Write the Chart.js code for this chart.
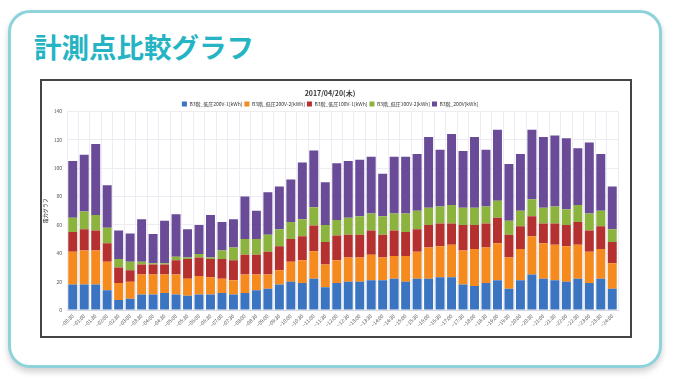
<!DOCTYPE html>
<html lang="ja">
<head>
<meta charset="utf-8">
<title>計測点比較グラフ</title>
<script src="https://cdn.jsdelivr.net/npm/chart.js@4.4.0/dist/chart.umd.min.js"></script>
<style>
  html, body { margin: 0; padding: 0; background: #fff; width: 675px; height: 386px; overflow: hidden; }
  .card {
    position: absolute; left: 8px; top: 10px; width: 648px; height: 352px;
    border: 3px solid #8ed3db; border-radius: 22px; background: #fff;
    box-shadow: 0 4px 6px rgba(0, 0, 0, 0.18);
  }
  .card h1 {
    position: absolute; left: 23px; top: 13px; margin: 0;
    font-family: "Noto Sans CJK JP", sans-serif; font-weight: 700; font-size: 27.5px;
    color: #25b4c3; letter-spacing: 0px;
  }
  .box {
    position: absolute; left: 40px; top: 79px; width: 588px; height: 255px;
    border: 2px solid #444; background: #fff;
  }
  .box canvas { display: block; }
</style>
</head>
<body>
<div class="card"><h1>計測点比較グラフ</h1></div>
<div class="box"><canvas id="grafica" width="588" height="255"></canvas></div>
<script>
// 時間帯ラベル
var etiquetas = [
  "~00:30", "~01:00", "~01:30", "~02:00", "~02:30", "~03:00", "~03:30", "~04:00",
  "~04:30", "~05:00", "~05:30", "~06:00", "~06:30", "~07:00", "~07:30", "~08:00",
  "~08:30", "~09:00", "~09:30", "~10:00", "~10:30", "~11:00", "~11:30", "~12:00",
  "~12:30", "~13:00", "~13:30", "~14:00", "~14:30", "~15:00", "~15:30", "~16:00",
  "~16:30", "~17:00", "~17:30", "~18:00", "~18:30", "~19:00", "~19:30", "~20:00",
  "~20:30", "~21:00", "~21:30", "~22:00", "~22:30", "~23:00", "~23:30", "~24:00"
];

// 各計測点の値 (kWh)
var bajo200v1 = [18, 18, 18, 14, 7, 8, 11, 11, 12, 11, 10, 11, 11, 12, 11, 12,
  14, 15, 18, 20, 19, 22, 16, 19, 20, 20, 21, 21, 22, 20, 22, 22,
  23, 23, 18, 17, 19, 21, 15, 21, 25, 22, 21, 20, 22, 19, 22, 15];
var bajo200v2 = [23, 24, 24, 20, 12, 12, 14, 14, 13, 14, 12, 13, 12, 10, 10, 13,
  11, 10, 10, 14, 16, 19.5, 16, 16, 17, 17, 18, 16, 16, 18, 19, 22,
  22, 23, 24, 26, 25, 26, 22, 22, 27, 25, 25, 25, 24, 22, 21, 18];
var bajo100v1 = [14, 15, 14, 13, 11, 8, 7, 7, 7, 10, 14, 13, 13, 14, 14, 14,
  14, 16, 17, 16, 17, 18, 16, 17.5, 16, 16, 17, 16, 18, 17, 16, 16,
  16, 15, 18, 17, 17, 18, 16, 16, 14, 14, 15, 15, 16, 15, 16, 15];
var bajo100v2 = [10, 12.5, 11, 11, 6, 6, 2, 1, 1, 2.5, 1, 2.5, 1, 6, 9, 11,
  11, 12, 12, 12, 12, 13, 12, 11, 12, 13, 12, 13, 12, 13, 13, 12,
  12, 13, 12, 12, 12, 12, 10, 11, 12, 11, 12, 11, 12, 12, 11, 9];
var total200v = [40, 40, 50, 30, 20, 20, 30, 20.5, 30, 30, 20, 20.5, 30, 20, 20, 30,
  20, 30, 30, 30, 40, 40, 30, 40, 40, 40, 40, 30, 40, 40, 40, 50,
  40, 50, 40, 50, 40, 50, 40, 40, 49, 50, 50, 50, 40, 50, 40, 30];

var nombres = ["B3階_低圧200V-1[kWh]", "B3階_低圧200V-2[kWh]", "B3階_低圧100V-1[kWh]",
  "B3階_低圧100V-2[kWh]", "B3階_200V[kWh]"];
var colores = ["#3b74c1", "#f58a1f", "#b5312f", "#8db33f", "#6a4b97"];
var series = [bajo200v1, bajo200v2, bajo100v1, bajo100v2, total200v];

var ctx = document.getElementById("grafica");
var fuente = "'Noto Sans CJK JP', sans-serif";

// 凡例の下の余白を詰める
var ajusteLeyenda = {
  id: "ajusteLeyenda",
  beforeInit: function (chart) {
    var fitOriginal = chart.legend.fit;
    chart.legend.fit = function () {
      fitOriginal.bind(chart.legend)();
      this.height -= 5;
    };
  }
};

new Chart(ctx, {
  type: "bar",
  data: {
    labels: etiquetas,
    datasets: series.map(function (valores, i) {
      return {
        label: nombres[i],
        data: valores,
        backgroundColor: colores[i],
        borderWidth: 0,
        categoryPercentage: 1.0,
        barPercentage: 0.78
      };
    })
  },
  plugins: [ajusteLeyenda],
  options: {
    responsive: false,
    animation: false,
    devicePixelRatio: 1,
    layout: { padding: { left: 0, right: 12, top: 8, bottom: 0 } },
    plugins: {
      title: {
        display: true,
        text: "2017/04/20(木)",
        color: "#333",
        font: { family: fuente, size: 7, weight: "bold" },
        padding: { top: 0, bottom: 2 }
      },
      legend: {
        display: true,
        labels: {
          boxWidth: 5, boxHeight: 5, padding: 2, color: "#333",
          font: { family: fuente, size: 5 }
        }
      },
      tooltip: { enabled: false }
    },
    scales: {
      x: {
        stacked: true,
        grid: { color: "#ececf2", offset: true, drawTicks: false },
        border: { color: "#d8d8e0" },
        ticks: {
          autoSkip: false, maxRotation: 45, minRotation: 45, padding: 3,
          color: "#555", font: { family: fuente, size: 5 }
        },
        afterFit: function (scale) { scale.height = 26; }
      },
      y: {
        stacked: true,
        min: 0, max: 140,
        grid: { color: "#ececf2", drawTicks: false },
        border: { display: false },
        title: {
          display: true, text: "電力グラフ", color: "#333",
          font: { family: fuente, size: 5 }, padding: { top: 0, bottom: 6 }
        },
        ticks: {
          stepSize: 20, padding: 5, color: "#555",
          font: { family: fuente, size: 5 }
        },
        afterFit: function (scale) {
          scale.width = 25;
          scale.paddingTop = 0;
        }
      }
    }
  }
});
</script>
</body>
</html>
